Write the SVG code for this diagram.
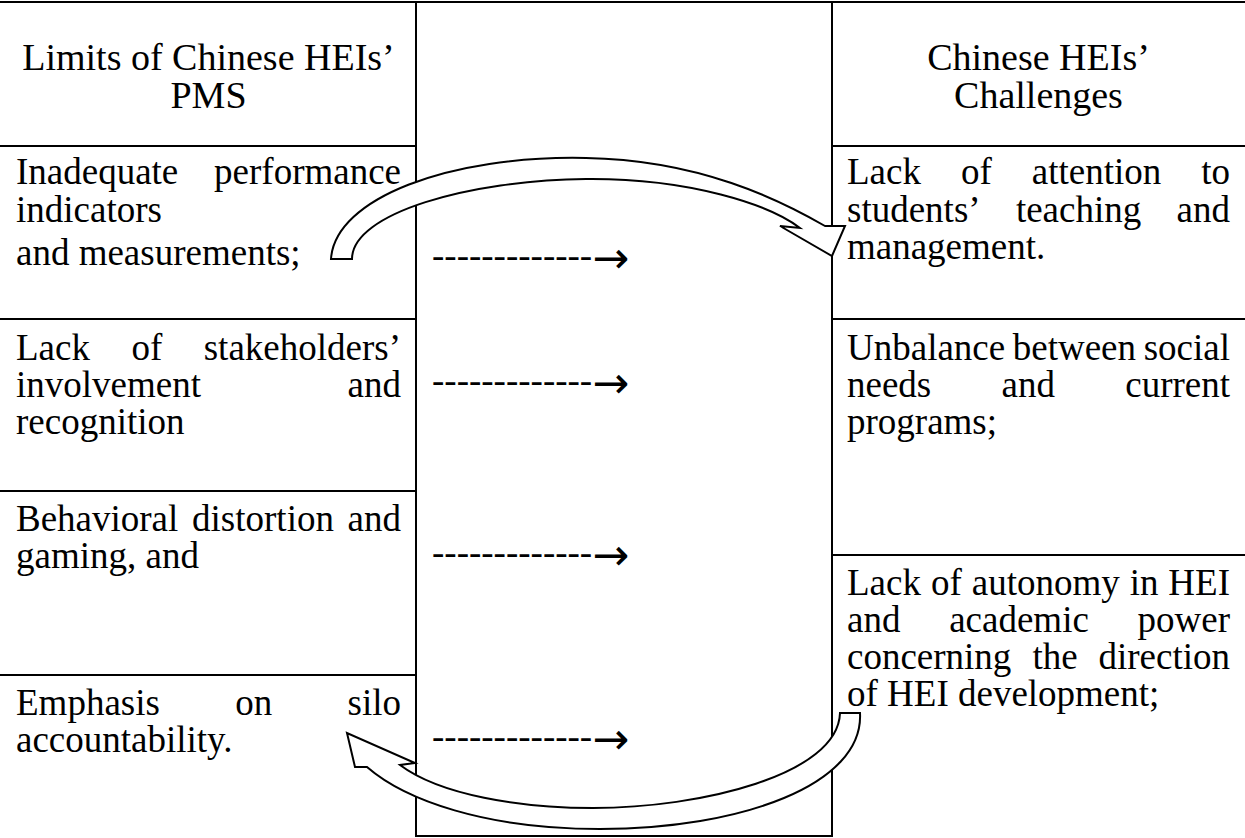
<svg xmlns="http://www.w3.org/2000/svg" width="1245" height="838" viewBox="0 0 1245 838">
<style>
  text { font-family: "Liberation Serif", "Times New Roman", serif; fill: #000; }
  .b { font-size: 37px; }
  .h { font-size: 38px; text-anchor: middle; }
  .e { text-anchor: end; }
  .m { text-anchor: middle; }
  .arw { font-family: "DejaVu Sans", sans-serif; font-size: 44px; }
  .grid line { stroke: #000; stroke-width: 2; }
  .flow { fill: #fff; stroke: #000; stroke-width: 2; stroke-linejoin: miter; }
</style>
<rect width="1245" height="838" fill="#fff"/>

<!-- table rules -->
<g id="grid" class="grid">
  <line x1="0" y1="2" x2="1245" y2="2"/>
  <line x1="416" y1="1" x2="416" y2="837"/>
  <line x1="832" y1="1" x2="832" y2="837"/>
  <line x1="0" y1="146" x2="417" y2="146"/>
  <line x1="831" y1="146" x2="1245" y2="146"/>
  <line x1="0" y1="319" x2="417" y2="319"/>
  <line x1="831" y1="319" x2="1245" y2="319"/>
  <line x1="0" y1="491" x2="417" y2="491"/>
  <line x1="831" y1="555" x2="1245" y2="555"/>
  <line x1="0" y1="675" x2="417" y2="675"/>
  <line x1="415" y1="836" x2="833" y2="836"/>
</g>

<!-- column headers -->
<g id="head-limits">
  <text class="h" x="208.5" y="70">Limits of Chinese HEIs’</text>
  <text class="h" x="208.5" y="108">PMS</text>
</g>
<g id="head-challenges">
  <text class="h" x="1038.5" y="70">Chinese HEIs’</text>
  <text class="h" x="1038.5" y="108">Challenges</text>
</g>

<!-- left column: limits -->
<g id="limit-indicators" class="b">
  <text x="16" y="184">Inadequate</text>
  <text class="e" x="401" y="184">performance</text>
  <text x="16" y="221.5">indicators</text>
  <text x="16" y="265">and measurements;</text>
</g>
<g id="limit-stakeholders" class="b">
  <text x="16" y="359.5">Lack</text>
  <text class="m" x="146.9" y="359.5">of</text>
  <text class="e" x="401" y="359.5">stakeholders’</text>
  <text x="16" y="396.5">involvement</text>
  <text class="e" x="401" y="396.5">and</text>
  <text x="16" y="433.5">recognition</text>
</g>
<g id="limit-gaming" class="b">
  <text x="16" y="531">Behavioral</text>
  <text class="m" x="263" y="531">distortion</text>
  <text class="e" x="401" y="531">and</text>
  <text x="16" y="568">gaming, and</text>
</g>
<g id="limit-silo" class="b">
  <text x="16" y="715">Emphasis</text>
  <text class="m" x="253.7" y="715">on</text>
  <text class="e" x="401" y="715">silo</text>
  <text x="16" y="752">accountability.</text>
</g>

<!-- right column: challenges -->
<g id="challenge-students" class="b">
  <text x="847" y="184">Lack</text>
  <text class="m" x="976.4" y="184">of</text>
  <text class="m" x="1096.5" y="184">attention</text>
  <text class="e" x="1230" y="184">to</text>
  <text x="847" y="221.5">students’</text>
  <text class="m" x="1078.6" y="221.5">teaching</text>
  <text class="e" x="1230" y="221.5">and</text>
  <text x="847" y="259">management.</text>
</g>
<g id="challenge-programs" class="b">
  <text x="847" y="359.5">Unbalance</text>
  <text class="m" x="1074.4" y="359.5">between</text>
  <text class="e" x="1230" y="359.5">social</text>
  <text x="847" y="396.5">needs</text>
  <text class="m" x="1028.2" y="396.5">and</text>
  <text class="e" x="1230" y="396.5">current</text>
  <text x="847" y="433.5">programs;</text>
</g>
<g id="challenge-autonomy" class="b">
  <text x="847" y="595">Lack</text>
  <text class="m" x="946.4" y="595">of</text>
  <text class="m" x="1045.7" y="595">autonomy</text>
  <text class="m" x="1144.1" y="595">in</text>
  <text class="e" x="1230" y="595">HEI</text>
  <text x="847" y="632">and</text>
  <text class="m" x="1019" y="632">academic</text>
  <text class="e" x="1230" y="632">power</text>
  <text x="847" y="669">concerning</text>
  <text class="m" x="1055" y="669">the</text>
  <text class="e" x="1230" y="669">direction</text>
  <text x="847" y="706">of HEI development;</text>
</g>

<!-- middle column: typed arrows -->
<g id="links" class="b">
  <text x="432" y="268">-------------<tspan class="arw" dy="5">→</tspan></text>
  <text x="432" y="393">-------------<tspan class="arw" dy="5">→</tspan></text>
  <text x="432" y="565">-------------<tspan class="arw" dy="5">→</tspan></text>
  <text x="432" y="749">-------------<tspan class="arw" dy="5">→</tspan></text>
</g>

<!-- curved block arrows -->
<g id="connectors">
  <path class="flow" d="M331,259 C335,198 450,155 586,158 C700,160 780,200 825,226 L845,226 L832,256 L780,226 L800,228 C770,205 690,178 586,179 C470,180 352,213 352,259 Z"/>
  <path class="flow" d="M840,713 L860,713 C864,785 740,829 600,829 C485,829 405,800 367,767 L355,767 L347,733 L415,763 L400,765 C440,795 520,808 593,808 C700,808 838,775 840,713 Z"/>
</g>
</svg>
